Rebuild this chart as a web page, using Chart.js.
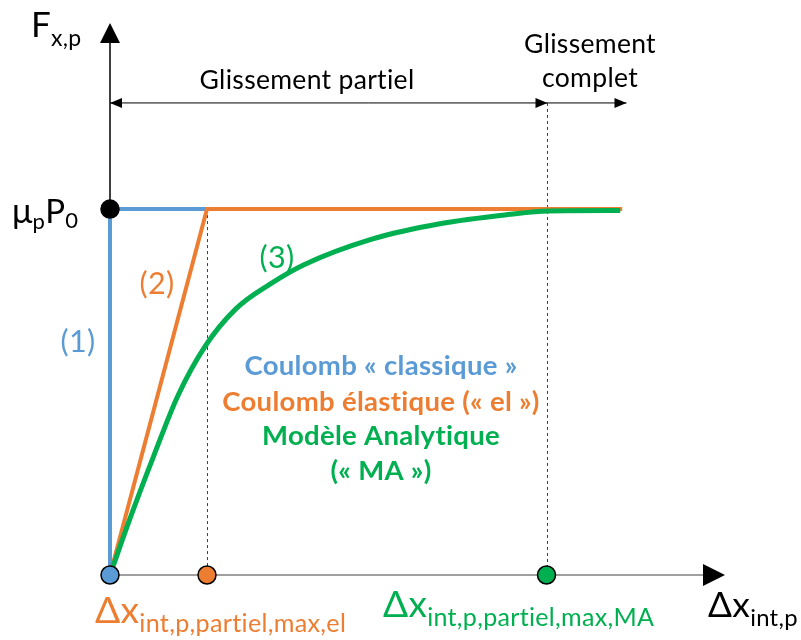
<!DOCTYPE html>
<html>
<head>
<meta charset="utf-8">
<script src="https://cdn.jsdelivr.net/npm/chart.js@4"></script>
<style>
  body { margin: 0; background: #fff; }
  canvas { display: block; }
</style>
</head>
<body>
<canvas id="graph" width="801" height="640"></canvas>
<script>
// (1) Coulomb classique : saut vertical puis palier
const coulombX = [0, 0, 1];
const coulombY = [0, 1, 1];
// (2) Coulomb élastique : rampe jusqu'à Δx max,el puis palier
const elasticX = [0, 1, 5.28];
const elasticY = [0, 1, 1];
// (3) Modèle analytique
const analyticX = [0, 0.2, 0.45, 0.7, 0.98, 1.3, 1.65, 2.0, 2.7, 3.4, 4.1, 4.52, 5.26];
const analyticY = [0, 0.15, 0.325, 0.49, 0.625, 0.728, 0.795, 0.848, 0.918, 0.96, 0.985, 0.995, 0.996];
// abscisses des points marqués sur l'axe
const slipMaxEl = 1;
const slipMaxMA = 4.5;
const muP0 = 1;
const regionLevel = 1.29;

const blue = "#5B9BD5";
const orange = "#ED7D31";
const green = "#00B050";
const FONT = "Lato, 'Open Sans', sans-serif";

function pts(xs, ys) {
  return xs.map((x, i) => ({ x: x, y: ys[i] }));
}

function fitSize(ctx, text, weight, width) {
  ctx.font = weight + " 100px " + FONT;
  return 100 * width / ctx.measureText(text).width;
}

// texte avec indices : parts = [[texte, taille, décalage vertical]]
// si width est donné, les tailles sont mises à l'échelle pour tenir dans cette largeur
function drawParts(ctx, parts, x, y, width, color) {
  ctx.textAlign = "left";
  ctx.textBaseline = "alphabetic";
  let k = 1;
  if (width) {
    let total = 0;
    parts.forEach((p) => {
      ctx.font = p[1] + "px " + FONT;
      total += ctx.measureText(p[0]).width;
    });
    k = width / total;
  }
  ctx.fillStyle = color;
  let cx = x;
  parts.forEach((p) => {
    ctx.font = (p[1] * k) + "px " + FONT;
    ctx.fillText(p[0], cx, y + p[2]);
    cx += ctx.measureText(p[0]).width;
  });
}

function arrowHead(ctx, x, y, dir, len, half) {
  ctx.beginPath();
  if (dir === "up") {
    ctx.moveTo(x, y); ctx.lineTo(x - half, y + len); ctx.lineTo(x + half, y + len);
  } else if (dir === "right") {
    ctx.moveTo(x, y); ctx.lineTo(x - len, y - half); ctx.lineTo(x - len, y + half);
  } else {
    ctx.moveTo(x, y); ctx.lineTo(x + len, y - half); ctx.lineTo(x + len, y + half);
  }
  ctx.closePath();
  ctx.fill();
}

const decorations = {
  id: "decorations",
  beforeDatasetsDraw(chart) {
    const ctx = chart.ctx;
    const xs = chart.scales.x, ys = chart.scales.y;
    const x0 = xs.getPixelForValue(0), y0 = ys.getPixelForValue(0);
    const area = chart.chartArea;
    ctx.save();
    // axe horizontal
    ctx.strokeStyle = "#7f7f7f";
    ctx.lineWidth = 1.5;
    ctx.beginPath();
    ctx.moveTo(x0, y0); ctx.lineTo(area.right - 20, y0);
    ctx.stroke();
    ctx.fillStyle = "#000";
    arrowHead(ctx, area.right, y0, "right", 22, 11);
    // axe vertical
    ctx.strokeStyle = "#000";
    ctx.beginPath();
    ctx.moveTo(x0, y0); ctx.lineTo(x0, area.top + 18);
    ctx.stroke();
    arrowHead(ctx, x0, area.top - 2, "up", 20, 10);
    // repères pointillés
    const yr = ys.getPixelForValue(regionLevel);
    ctx.strokeStyle = "#404040";
    ctx.lineWidth = 1;
    ctx.setLineDash([3, 3]);
    ctx.beginPath();
    const xe = Math.round(xs.getPixelForValue(slipMaxEl)) + 0.5;
    ctx.moveTo(xe, ys.getPixelForValue(muP0)); ctx.lineTo(xe, y0);
    const xm = Math.round(xs.getPixelForValue(slipMaxMA)) + 0.5;
    ctx.moveTo(xm, yr); ctx.lineTo(xm, y0);
    ctx.stroke();
    ctx.setLineDash([]);
    // flèches des zones de glissement
    ctx.strokeStyle = "#000";
    ctx.beginPath();
    ctx.moveTo(x0, yr); ctx.lineTo(xm + 79, yr);
    ctx.stroke();
    ctx.fillStyle = "#000";
    arrowHead(ctx, x0, yr, "left", 12, 5);
    arrowHead(ctx, xm, yr, "right", 12, 5);
    arrowHead(ctx, xm + 79, yr, "right", 12, 5);
    ctx.restore();
  },
  afterDraw(chart) {
    const ctx = chart.ctx;
    ctx.save();
    // un léger espacement évite les ligatures « ti » de Lato
    ctx.letterSpacing = "0.3px";
    const reg = fitSize(ctx, "Glissement partiel", "normal", 211);
    ctx.textAlign = "center";
    ctx.textBaseline = "alphabetic";
    ctx.font = reg + "px " + FONT;
    ctx.fillStyle = "#000";
    ctx.fillText("Glissement partiel", 307, 89);
    ctx.fillText("Glissement", 590, 53);
    ctx.fillText("complet", 590, 87);
    ctx.font = (reg * 1.15) + "px " + FONT;
    ctx.fillStyle = blue;
    ctx.fillText("(1)", 78, 352);
    ctx.fillStyle = orange;
    ctx.fillText("(2)", 157, 294);
    ctx.fillStyle = green;
    ctx.fillText("(3)", 277, 268);

    const bold = fitSize(ctx, "Coulomb élastique (« el »)", "bold", 312);
    ctx.font = "bold " + bold + "px " + FONT;
    ctx.fillStyle = blue;
    ctx.fillText("Coulomb « classique »", 381, 375);
    ctx.fillStyle = orange;
    ctx.fillText("Coulomb élastique (« el »)", 381, 411);
    ctx.fillStyle = green;
    ctx.fillText("Modèle Analytique", 381, 445);
    ctx.fillText("(« MA »)", 381, 480);

    drawParts(ctx, [["F", 35, 0], ["x,p", 23, 9]], 31, 37, null, "#000");
    drawParts(ctx, [["μ", 34, 0], ["p", 22, 6], ["P", 33, 0], ["0", 22, 5]], 12, 223, null, "#000");
    drawParts(ctx, [["Δx", 34, 0], ["int,p,partiel,max,el", 23, 9]], 95, 623, 252, orange);
    drawParts(ctx, [["Δx", 34, 0], ["int,p,partiel,max,MA", 23, 9]], 383, 617, 272, green);
    drawParts(ctx, [["Δx", 34, 0], ["int,p", 23, 9]], 708, 617, 90, "#000");
    ctx.restore();
  }
};

new Chart(document.getElementById("graph"), {
  type: "scatter",
  data: {
    datasets: [
      {
        data: pts([0, slipMaxEl, slipMaxMA, 0], [0, 0, 0, muP0]),
        pointRadius: 9,
        pointBorderWidth: 1.5,
        pointBorderColor: "#000",
        pointBackgroundColor: [blue, orange, green, "#000"],
        showLine: false,
        clip: false,
        order: 0
      },
      {
        data: pts(analyticX, analyticY),
        showLine: true,
        borderColor: green,
        borderWidth: 5,
        pointRadius: 0,
        cubicInterpolationMode: "monotone",
        clip: false,
        order: 1
      },
      {
        data: pts(elasticX, elasticY),
        showLine: true,
        borderColor: orange,
        borderWidth: 4,
        pointRadius: 0,
        clip: false,
        order: 2
      },
      {
        data: pts(coulombX, coulombY),
        showLine: true,
        borderColor: blue,
        borderWidth: 4,
        pointRadius: 0,
        clip: false,
        order: 3
      }
    ]
  },
  options: {
    responsive: false,
    animation: false,
    layout: { padding: { left: 110, right: 76, top: 25, bottom: 65 } },
    plugins: { legend: { display: false }, tooltip: { enabled: false } },
    scales: {
      x: { type: "linear", min: 0, max: 6.34, display: false },
      y: { type: "linear", min: 0, max: 1.503, display: false }
    }
  },
  plugins: [decorations]
});
</script>
</body>
</html>
